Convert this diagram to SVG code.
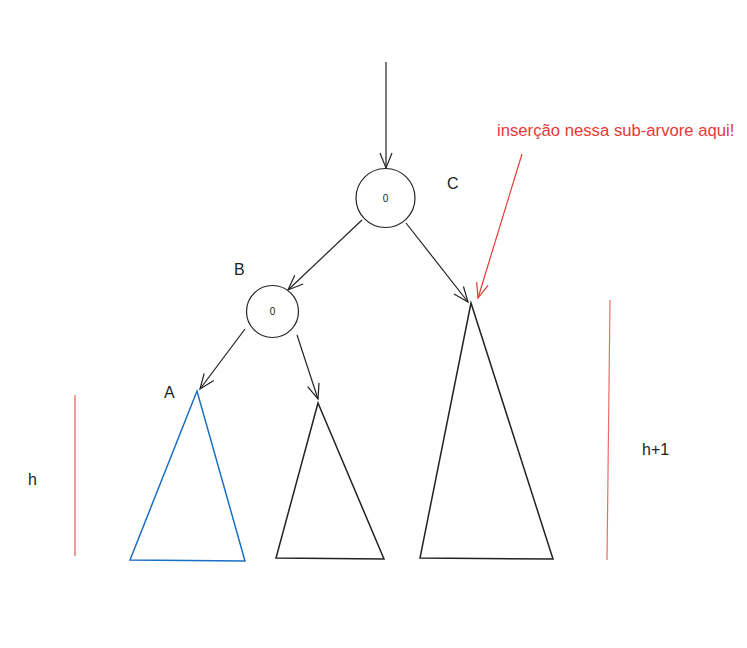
<svg xmlns="http://www.w3.org/2000/svg" width="747" height="648" viewBox="0 0 747 648">
<style>
.lbl{font-family:"Liberation Sans",Arial,sans-serif;font-size:16px;fill:#222}
.zero{font-family:"Liberation Sans",Arial,sans-serif;font-size:10px;fill:#222;text-anchor:middle}
.node{fill:#fff;stroke:#222;stroke-width:1.2}
.edge{fill:none;stroke:#222;stroke-width:1.2}
.tri{fill:none;stroke:#222;stroke-width:1.5;stroke-linejoin:miter}
.red{fill:none;stroke:#e53935;stroke-width:1.2}
.redtxt{font-family:"Liberation Sans",Arial,sans-serif;font-size:16.7px;fill:#e53935}
</style>
<defs>
<marker id="v" markerUnits="userSpaceOnUse" markerWidth="20" markerHeight="14" refX="16" refY="7" orient="auto" viewBox="0 0 20 14">
<path d="M1,1 L16,7 L1,13" fill="none" stroke="#222" stroke-width="1.2"/>
</marker>
<marker id="vr" markerUnits="userSpaceOnUse" markerWidth="20" markerHeight="14" refX="16" refY="7" orient="auto" viewBox="0 0 20 14">
<path d="M1,1 L16,7 L1,13" fill="none" stroke="#e53935" stroke-width="1.2"/>
</marker>
</defs>
<rect width="747" height="648" fill="#fff"/>
<g id="connectors">
<line class="edge" x1="386" y1="62" x2="386" y2="168" stroke="#555" stroke-width="1.4" marker-end="url(#v)"/>
<line class="edge" x1="362" y1="220" x2="288" y2="290" marker-end="url(#v)"/>
<line class="edge" x1="406" y1="223" x2="468" y2="302" marker-end="url(#v)"/>
<line class="edge" x1="245" y1="329" x2="200" y2="389" marker-end="url(#v)"/>
<line class="edge" x1="297" y1="335" x2="318" y2="399" marker-end="url(#v)"/>
<line class="red" x1="522" y1="154" x2="478" y2="298" marker-end="url(#vr)"/>
</g>
<g id="nodeC">
<circle class="node" cx="385.5" cy="198" r="29.5"/>
<text class="zero" x="385.5" y="201.5">0</text>
<text class="lbl" x="447" y="189">C</text>
</g>
<g id="nodeB">
<circle class="node" cx="272.5" cy="311.5" r="26"/>
<text class="zero" x="272.5" y="315">0</text>
<text class="lbl" x="234" y="275">B</text>
</g>
<g id="subtreeA">
<polygon points="197,391 130,560 245,561" fill="none" stroke="#1a6fc4" stroke-width="1.5"/>
<text class="lbl" x="164" y="398">A</text>
</g>
<g id="subtreeMid">
<polygon class="tri" points="318,403 276,558 384,559"/>
</g>
<g id="subtreeC">
<polygon class="tri" points="471,303 420,558 553,559"/>
</g>
<g id="heightH">
<line x1="75" y1="395" x2="75" y2="556" stroke="#ea7a7a" stroke-width="1.5"/>
<text class="lbl" x="28" y="485">h</text>
</g>
<g id="heightH1">
<line x1="610" y1="300" x2="607" y2="560" stroke="#e53935" stroke-width="1.2" stroke-opacity="0.75"/>
<text class="lbl" x="642" y="455">h+1</text>
</g>
<g id="note">
<text class="redtxt" x="497" y="136">inserção nessa sub-arvore aqui!</text>
</g>
</svg>
